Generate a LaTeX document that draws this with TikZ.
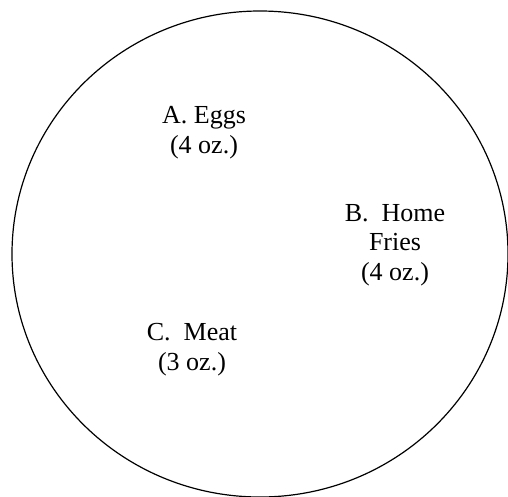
\documentclass[tikz,border=0pt]{standalone}
\usepackage{fontspec}
\setmainfont{Liberation Serif}
\begin{document}
\begin{tikzpicture}[x=1pt,y=-1pt,
  lbl/.style={align=center,inner sep=0pt,anchor=base,font=\fontsize{26}{29.5}\selectfont},
  plate/.style={draw=black,line width=1.2pt}]
\useasboundingbox (0,0) rectangle (508,496);
\fill[white] (0,0) rectangle (508,496);
\draw[plate] (260,254) ellipse [x radius=248, y radius=243];
\node[lbl] (eggs) at (204,153) {A. Eggs\\(4 oz.)};
\node[lbl] (fries) at (395,280) {B.\ \ Home\\Fries\\(4 oz.)};
\node[lbl] (meat) at (192,370) {C.\ \ Meat\\(3 oz.)};
\end{tikzpicture}
\end{document}
